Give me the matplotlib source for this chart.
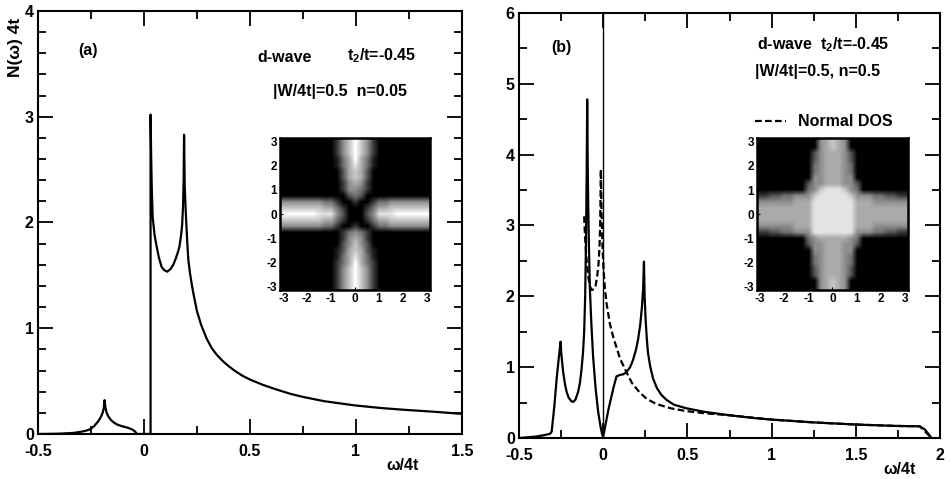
import numpy as np
import matplotlib
matplotlib.use('Agg')
import matplotlib.pyplot as plt
from matplotlib.ticker import MultipleLocator, FormatStrFormatter

plt.rcParams['font.family'] = ['Liberation Sans', 'DejaVu Sans']
plt.rcParams['font.weight'] = 'bold'
plt.rcParams['mathtext.fontset'] = 'custom'
plt.rcParams['mathtext.rm'] = 'Liberation Sans:bold'
plt.rcParams['mathtext.it'] = 'Liberation Sans:bold'
plt.rcParams['axes.unicode_minus'] = False

# panel (a): DOS, n=0.05
w_a = [-0.5, -0.45, -0.4, -0.36, -0.333, -0.3, -0.275, -0.255, -0.235, -0.216, -0.205,
       -0.195, -0.19, -0.186, -0.182, -0.176, -0.168, -0.155, -0.14, -0.125, -0.105,
       -0.09, -0.075, -0.062, -0.05, -0.04, -0.034,
       0.031, 0.031, 0.034, 0.037, 0.041, 0.05, 0.06, 0.07, 0.083, 0.095, 0.11, 0.125,
       0.138, 0.15, 0.16, 0.167, 0.175, 0.18, 0.184, 0.187, 0.189, 0.192, 0.197, 0.203,
       0.209, 0.217, 0.225, 0.233, 0.25, 0.27, 0.296, 0.32, 0.345, 0.374, 0.4, 0.43,
       0.465, 0.5, 0.56, 0.626, 0.69, 0.751, 0.85, 0.995, 1.12, 1.239, 1.37, 1.5]
n_a = [0.0, 0.001, 0.003, 0.007, 0.01, 0.02, 0.03, 0.044, 0.075, 0.12, 0.155,
       0.2, 0.24, 0.32, 0.25, 0.2, 0.165, 0.13, 0.105, 0.088, 0.074,
       0.066, 0.058, 0.048, 0.036, 0.018, 0.0,
       0.0, 3.02, 2.6, 2.3, 2.05, 1.88, 1.77, 1.67, 1.58, 1.55, 1.535, 1.56,
       1.6, 1.66, 1.72, 1.77, 1.88, 1.98, 2.15, 2.4, 2.83, 2.35, 2.1, 1.85,
       1.65, 1.52, 1.42, 1.33, 1.16, 1.03, 0.9, 0.81, 0.745, 0.685, 0.64, 0.595,
       0.55, 0.515, 0.465, 0.42, 0.38, 0.35, 0.31, 0.27, 0.245, 0.227, 0.21, 0.19]

# panel (b): DOS, n=0.5
w_b = [-0.5, -0.45, -0.4, -0.35, -0.315, -0.306, -0.29, -0.277, -0.265, -0.258, -0.253,
       -0.249, -0.243, -0.237, -0.227, -0.217, -0.205, -0.19, -0.178, -0.165, -0.149,
       -0.138, -0.129, -0.12, -0.113, -0.107, -0.102, -0.098, -0.095, -0.092, -0.089,
       -0.085, -0.079, -0.07, -0.06, -0.045, -0.03, -0.015, -0.005, 0.0,
       0.031, 0.06, 0.079, 0.1, 0.12, 0.138, 0.16, 0.177, 0.195, 0.207, 0.22, 0.23,
       0.237, 0.242, 0.246, 0.252, 0.259, 0.266, 0.28, 0.296, 0.32, 0.345, 0.375, 0.42,
       0.493, 0.6, 0.753, 0.9, 1.0, 1.25, 1.5, 1.743, 1.88, 1.91, 1.95]
n_b = [0.0, 0.01, 0.02, 0.04, 0.06, 0.09, 0.45, 0.82, 1.1, 1.25, 1.36,
       1.2, 1.05, 0.92, 0.76, 0.65, 0.57, 0.52, 0.51, 0.54, 0.65,
       0.78, 0.96, 1.2, 1.5, 2.0, 2.8, 3.8, 4.78, 3.9, 3.3,
       2.75, 2.1, 1.6, 1.15, 0.7, 0.37, 0.15, 0.04, 0.02,
       0.4, 0.7, 0.87, 0.89, 0.9, 0.93, 1.0, 1.1, 1.25, 1.39, 1.6, 1.85,
       2.1, 2.49, 2.0, 1.67, 1.4, 1.2, 1.0, 0.84, 0.7, 0.61, 0.54, 0.47,
       0.42, 0.37, 0.32, 0.28, 0.26, 0.22, 0.19, 0.17, 0.165, 0.12, 0.0]

# normal state DOS (dashed)
w_n = [-0.113, -0.108, -0.1, -0.09, -0.08, -0.069, -0.055, -0.045, -0.035, -0.028, -0.022,
       -0.018, -0.014, -0.01, -0.004, 0.003, 0.009, 0.02, 0.039, 0.06, 0.079, 0.1, 0.138,
       0.17, 0.217, 0.26, 0.316, 0.4, 0.493, 0.6, 0.753, 1.0, 1.25, 1.5, 1.743, 1.88, 1.95]
n_n = [3.13, 2.85, 2.55, 2.3, 2.15, 2.09, 2.1, 2.15, 2.3, 2.45, 2.7,
       3.0, 3.79, 3.2, 2.7, 2.35, 2.14, 1.9, 1.62, 1.42, 1.28, 1.12, 0.93,
       0.78, 0.64, 0.55, 0.48, 0.42, 0.38, 0.35, 0.32, 0.26, 0.22, 0.19, 0.17, 0.165, 0.0]

mu_b = 0.0

# insets: gap maps in k-space, grey level 0 (black) .. 9 (white)
inset_a = [
    "0000000002579752000000000",
    "0000000002579752000000000",
    "0000000002579752000000000",
    "0000000001469641000000000",
    "0000000001468641000000000",
    "0000000000367630000000000",
    "0000000000367630000000000",
    "0000000000256520000000000",
    "0000000000255420000000000",
    "0000000000034300000000000",
    "5555555442002002445555555",
    "7777777664200024667777777",
    "9999998885300035888999999",
    "7777777664200024667777777",
    "5555555442002002445555555",
    "0000000000245420000000000",
    "0000000000256520000000000",
    "0000000000357530000000000",
    "0000000001367631000000000",
    "0000000001468641000000000",
    "0000000002469642000000000",
    "0000000002579752000000000",
    "0000000002579752000000000",
    "0000000002579752000000000",
    "0000000002579752000000000",
]
inset_b = [
    "0000000000567650000000000",
    "0000000000567650000000000",
    "0000000003566653000000000",
    "0000000003566653000000000",
    "0000000004566654000000000",
    "0000000004566654000000000",
    "0000000005566655000000000",
    "0000000035566655300000000",
    "0000000045788875400000000",
    "2233445557888887555443322",
    "5555556668888888666555555",
    "6666666668888888666666666",
    "6666666668888888666666666",
    "6666666668888888666666666",
    "5555556668888888666555555",
    "2233445558888888555443322",
    "0000000045666665400000000",
    "0000000035566655300000000",
    "0000000005566655000000000",
    "0000000004566654000000000",
    "0000000004566654000000000",
    "0000000003566653000000000",
    "0000000003566653000000000",
    "0000000000567650000000000",
    "0000000000567650000000000",
]

fig = plt.figure(figsize=(9.5, 4.79), dpi=100)
ax_a = fig.add_axes([0.040, 0.094, 0.4463, 0.883])
ax_b = fig.add_axes([0.5463, 0.0856, 0.4432, 0.8873])

ax_a.plot(w_a, n_a, color='k', lw=1.6)
ax_b.plot(w_b, n_b, color='k', lw=1.6)
ax_b.plot(w_n, n_n, color='k', lw=1.6, ls=(0, (3, 1.5)), label='Normal DOS')
ax_b.axvline(mu_b, color='k', lw=1.0)

ax_a.set_xlim(-0.5, 1.5)
ax_a.set_ylim(0, 4)
ax_b.set_xlim(-0.5, 2)
ax_b.set_ylim(0, 6)

for ax, ymin in [(ax_a, 0.2), (ax_b, 0.5)]:
    ax.xaxis.set_major_locator(MultipleLocator(0.5))
    ax.xaxis.set_minor_locator(MultipleLocator(0.25))
    ax.yaxis.set_major_locator(MultipleLocator(1))
    ax.yaxis.set_minor_locator(MultipleLocator(ymin))
    ax.xaxis.set_major_formatter(FormatStrFormatter('%g'))
    ax.yaxis.set_major_formatter(FormatStrFormatter('%g'))
    ax.tick_params(which='both', direction='in', top=True, right=True, width=1.3,
                   labelsize=11.5)
    ax.tick_params(axis='x', pad=7)
    ax.tick_params(axis='y', pad=3)
    ax.tick_params(which='major', length=11)
    ax.tick_params(which='minor', length=6)
    for s in ax.spines.values():
        s.set_linewidth(1.5)
    for lab in ax.get_xticklabels() + ax.get_yticklabels():
        lab.set_fontweight('bold')

def draw_inset(rect, rows):
    ins = fig.add_axes(rect)
    img = np.array([[int(c) for c in r] for r in rows], dtype=float)
    ins.imshow(img, cmap='gray', vmin=0, vmax=9, interpolation='bilinear',
               extent=[-np.pi, np.pi, -np.pi, np.pi], aspect='auto')
    ins.set_xticks([-3, -2, -1, 0, 1, 2, 3])
    ins.set_yticks([-3, -2, -1, 0, 1, 2, 3])
    ins.tick_params(length=2, labelsize=8.5, pad=2, direction='in')
    for lab in ins.get_xticklabels() + ins.get_yticklabels():
        lab.set_fontweight('bold')
    for s in ins.spines.values():
        s.set_linewidth(1.8)
    return ins

draw_inset([0.2947, 0.3946, 0.158, 0.317], inset_a)
draw_inset([0.7965, 0.3946, 0.1596, 0.3166], inset_b)

tk = dict(fontsize=11.5, fontweight='bold')
fig.text(0.0926, 0.8956, '(a)', ha='center', va='center', **tk)
fig.text(0.3000, 0.881, 'd-wave', ha='center', va='center', **tk)
fig.text(0.402, 0.883, 't$_2$/t=-0.45', ha='center', va='center', **tk)
fig.text(0.3579, 0.810, '|W/4t|=0.5  n=0.05', ha='center', va='center', **tk)
fig.text(0.0158, 0.902, 'N(ω) 4t', ha='center', va='center', rotation=90,
         fontsize=12.5, fontweight='bold')
fig.text(0.4242, 0.0292, 'ω/4t', ha='center', va='center', **tk)

fig.text(0.5905, 0.900, '(b)', ha='center', va='center', **tk)
fig.text(0.7968, 0.906, 'd-wave  t$_2$/t=-0.45', ha='left', va='center', **tk)
fig.text(0.7947, 0.8497, '|W/4t|=0.5, n=0.5', ha='left', va='center', **tk)
fig.text(0.9474, 0.0188, 'ω/4t', ha='center', va='center', **tk)

ax_b.legend(loc='center left', bbox_to_anchor=(0.795, 1 - 122 / 479),
            bbox_transform=fig.transFigure, frameon=False, handlelength=1.9,
            handletextpad=0.8, borderpad=0, borderaxespad=0,
            prop={'size': 11.5, 'weight': 'bold'})

fig.savefig('out.png', dpi=100)
